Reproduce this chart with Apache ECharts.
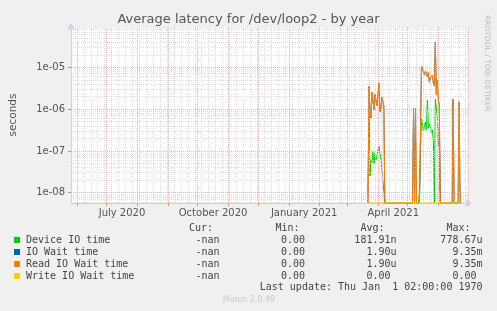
<!DOCTYPE html>
<html><head><meta charset="utf-8">
<script src="https://cdn.jsdelivr.net/npm/echarts@6/dist/echarts.min.js"></script>
<style>html,body{margin:0;padding:0;background:#f0f0f0;} #c{width:497px;height:311px;}</style>
</head><body><div id="c"></div>
<script>
// ---------------- data ----------------
const chartTitle = 'Average latency for /dev/loop2 - by year';
const yAxisName = 'seconds';
const sideText = 'RRDTOOL / TOBI OETIKER';
const footerText = 'Munin 2.0.49';
const lastUpdate = 'Last update: Thu Jan  1 02:00:00 1970';

const xTickLabels = ['July 2020', 'October 2020', 'January 2021', 'April 2021'];
const xTickDates = ['2020-07-16', '2020-10-16', '2021-01-16', '2021-04-16'];
const yTickLabels = ['1e-08', '1e-07', '1e-06', '1e-05'];
const yTickValues = [1e-8, 1e-7, 1e-6, 1e-5];

const dates = [
  '2021-03-22','2021-03-23','2021-03-24','2021-03-25','2021-03-26','2021-03-27','2021-03-28','2021-03-29','2021-03-30','2021-03-31',
  '2021-04-01','2021-04-02','2021-04-03','2021-04-04','2021-04-05','2021-04-06','2021-04-07','2021-04-08',
  '2021-05-06','2021-05-07','2021-05-08','2021-05-09','2021-05-10',
  '2021-05-12','2021-05-13','2021-05-14','2021-05-15','2021-05-16','2021-05-17','2021-05-18','2021-05-19','2021-05-20',
  '2021-05-21','2021-05-22','2021-05-23','2021-05-24','2021-05-25','2021-05-26','2021-05-27','2021-05-28','2021-05-29',
  '2021-05-30','2021-05-31','2021-06-01','2021-06-02','2021-06-03',
  '2021-06-15','2021-06-16','2021-06-17','2021-06-21','2021-06-22','2021-06-23'
];
const deviceIO = [
  0, 3.4e-6, 2.5e-8, 6.1e-8, 5.4e-8, 9.4e-8, 4.9e-8, 8.9e-8, 6.1e-8, 7.6e-8,
  1.05e-7, 1.3e-7, 8.9e-8, 6.8e-8, 3.9e-8, 3.5e-8, 3.9e-8, 0,
  0, 0, 0, 0, 0,
  0, 1.2e-8, 1.3e-8, 6.1e-7, 4.1e-7, 2.8e-7, 3.9e-7, 4.9e-7, 3.2e-7,
  1.65e-6, 3.5e-7, 4.4e-7, 3.9e-7, 2.7e-7, 3.2e-7, 1.8e-7, 0, 1.7e-6,
  1.6e-6, 6.5e-7, 1.24e-7, 3.7e-7, 0,
  0, 0, 0, 0, 0, 0
];
const ioWait = [
  0, 3.57e-6, 8.5e-7, 6.1e-7, 2.56e-6, 1.65e-6, 9.5e-7, 2.3e-6, 1.65e-6, 1.19e-6,
  2.05e-6, 4.2e-6, 8.5e-7, 1.06e-6, 1.95e-6, 2.05e-6, 1.19e-6, 0,
  0, 1.05e-6, 0, 1.05e-6, 0,
  0, 0, 0, 1.07e-5, 1.0e-5, 1.07e-5, 6.5e-6, 8.2e-6, 6.9e-6,
  5.9e-6, 7.7e-6, 4.4e-6, 5.5e-6, 5.0e-6, 6.5e-6, 4.2e-6, 3.6e-6, 4.0e-5,
  2.2e-6, 5.0e-6, 1.65e-6, 1.25e-6, 0,
  0, 1.75e-6, 0, 0, 1.5e-6, 0
];
const readIOWait = [
  0, 3.57e-6, 8.5e-7, 6.1e-7, 2.56e-6, 1.65e-6, 9.5e-7, 2.3e-6, 1.65e-6, 1.19e-6,
  2.05e-6, 4.2e-6, 8.5e-7, 1.06e-6, 1.95e-6, 2.05e-6, 1.19e-6, 0,
  0, 1.05e-6, 0, 1.05e-6, 0,
  0, 0, 0, 1.07e-5, 1.0e-5, 1.07e-5, 6.5e-6, 8.2e-6, 6.9e-6,
  5.9e-6, 7.7e-6, 4.4e-6, 5.5e-6, 5.0e-6, 6.5e-6, 4.2e-6, 3.6e-6, 4.0e-5,
  2.2e-6, 5.0e-6, 1.65e-6, 1.25e-6, 0,
  0, 1.75e-6, 0, 0, 1.5e-6, 0
];
const writeIOWait = [
  0, 0, 0, 0, 0, 0, 0, 0, 0, 0,
  0, 0, 0, 0, 0, 0, 0, 0,
  0, 0, 0, 0, 0,
  0, 0, 0, 0, 0, 0, 0, 0, 0,
  0, 0, 0, 0, 0, 0, 0, 0, 0,
  0, 0, 0, 0, 0,
  0, 0, 0, 0, 0, 0
];

const legendNames = ['Device IO time', 'IO Wait time', 'Read IO Wait time', 'Write IO Wait time'];
const legendHeaders = ['Cur:', 'Min:', 'Avg:', 'Max:'];
const curVals = ['-nan', '-nan', '-nan', '-nan'];
const minVals = ['0.00 ', '0.00 ', '0.00 ', '0.00 '];
const avgVals = ['181.91n', '1.90u', '1.90u', '0.00 '];
const maxVals = ['778.67u', '9.35m', '9.35m', '0.00 '];

// ---------------- styles / layout ----------------
const seriesColors = ['#00CC00', '#0066B3', '#FF8000', '#FFCC00'];
const DAY = 86400000;
const t = s => Date.parse(s + 'T00:00:00Z');
const xMin = t('2020-05-26'), xMax = t('2021-07-01');
const yMin = Math.pow(10, -8.246), yMax = Math.pow(10, -4.035);

const monthStarts = [];
for (let y = 2020, m = 5; ; ) {
  const v = Date.UTC(y, m, 1);
  if (v > xMax) break;
  if (v >= xMin) monthStarts.push(v);
  m++; if (m > 11) { m = 0; y++; }
}
const weekLines = [];
for (let v = Date.UTC(2020, 5, 1); v < xMax; v += 7 * DAY) weekLines.push(v);
const minorY = [];
for (let e = -9; e <= -5; e++) for (let k = 2; k <= 9; k++) {
  const v = k * Math.pow(10, e);
  if (v > yMin && v < yMax) minorY.push(v);
}
const labelTimes = xTickDates.map(d => t(d) + DAY / 2);

function toSeries(vals) {
  return dates.map((d, i) => [t(d), vals[i] === 0 ? yMin : vals[i]]);
}

const minorStyle = { color: '#dcdcdc', type: [1, 1], width: 1 };
const majorStyle = { color: '#f2b0b0', type: [1, 1], width: 1 };
// grid drawn on a linear axis in log10 units so horizontal lines match the log axis
const gridSeries = {
  type: 'line', data: [[xMin, Math.log10(yMin)]], showSymbol: false, lineStyle: { opacity: 0 },
  xAxisIndex: 0, yAxisIndex: 1, silent: true, z: 1,
  markLine: {
    silent: true, symbol: ['none', 'none'], animation: false,
    label: { show: false },
    data: [
      ...weekLines.map(v => ({ xAxis: v, lineStyle: minorStyle })),
      ...minorY.map(v => ({ yAxis: Math.log10(v), lineStyle: minorStyle })),
      ...monthStarts.map(v => ({ xAxis: v, lineStyle: majorStyle })),
      ...yTickValues.map(v => ({ yAxis: Math.log10(v), lineStyle: majorStyle }))
    ]
  }
};

const names = ['Device IO time', 'IO Wait time', 'Read IO Wait time', 'Write IO Wait time'];
const dataSets = [deviceIO, ioWait, readIOWait, writeIOWait];
const lineSeries = dataSets.map((vals, i) => ({
  name: names[i], type: 'line', data: toSeries(vals), showSymbol: false, clip: false,
  xAxisIndex: 0, yAxisIndex: 0,
  z: 3 + i, lineStyle: { color: seriesColors[i], width: 1 }, itemStyle: { color: seriesColors[i] }
}));

// legend graphics
const mono = '10px "DejaVu Sans Mono"';
const txtColor = '#444';
const rowY = [240, 252, 264, 276];
const g = [];
g.push({ type: 'text', x: 248.5, y: 20, style: { text: chartTitle, fill: '#555', font: '13px "DejaVu Sans"', textAlign: 'center', textVerticalAlign: 'middle' } });
g.push({ type: 'text', x: 487, y: 15, rotation: -Math.PI / 2, style: { text: sideText, fill: '#bbbbbb', font: '7.5px "DejaVu Sans"', textAlign: 'left', textVerticalAlign: 'middle' } });
const headerX = [213, 299.5, 384.5, 470.5];
legendHeaders.forEach((h, i) => g.push({ type: 'text', x: headerX[i], y: 228, style: { text: h, fill: txtColor, font: mono, textAlign: 'right', textVerticalAlign: 'middle' } }));
const colX = [219.5, 311, 396.5, 482.5];
const cols = [curVals, minVals, avgVals, maxVals];
legendNames.forEach((n, r) => {
  g.push({ type: 'rect', shape: { x: 14, y: rowY[r] - 3, width: 6, height: 6 }, style: { fill: seriesColors[r] } });
  g.push({ type: 'text', x: 26, y: rowY[r], style: { text: n, fill: txtColor, font: mono, textAlign: 'left', textVerticalAlign: 'middle' } });
  cols.forEach((c, ci) => g.push({ type: 'text', x: colX[ci], y: rowY[r], style: { text: c[r], fill: txtColor, font: mono, textAlign: 'right', textVerticalAlign: 'middle' } }));
});
g.push({ type: 'text', x: 482.5, y: 287.5, style: { text: lastUpdate, fill: txtColor, font: mono, textAlign: 'right', textVerticalAlign: 'middle' } });
g.push({ type: 'text', x: 249, y: 300, style: { text: footerText, fill: '#c8c8c8', font: '8px "DejaVu Sans"', textAlign: 'center', textVerticalAlign: 'middle' } });

const chart = echarts.init(document.getElementById('c'), null, { renderer: 'canvas' });
chart.setOption({
  animation: false,
  backgroundColor: '#f0f0f0',
  grid: { left: 67, top: 27, width: 401, height: 176, show: true, backgroundColor: '#ffffff', borderWidth: 0, containLabel: false },
  xAxis: [{
    type: 'value', min: xMin, max: xMax, scale: true,
    axisLine: { show: true, onZero: false, lineStyle: { color: '#c8ccf8', width: 1 }, symbol: ['none', 'arrow'], symbolSize: [6, 7], symbolOffset: [0, 4] },
    axisTick: { show: true, customValues: monthStarts, length: 3, lineStyle: { color: '#e89090' } },
    axisLabel: {
      customValues: labelTimes, color: '#555', fontSize: 10, fontFamily: 'DejaVu Sans', margin: 5,
      formatter: v => { let b = 0, bd = Infinity; labelTimes.forEach((lt, i) => { const d = Math.abs(lt - v); if (d < bd) { bd = d; b = i; } }); return xTickLabels[b]; }
    },
    splitLine: { show: false }, minorTick: { show: false }
  }],
  yAxis: [{
    type: 'log', logBase: 10, min: yMin, max: yMax,
    name: yAxisName, nameLocation: 'middle', nameGap: 52, nameRotate: 90,
    nameTextStyle: { color: '#555', fontSize: 10.5, fontFamily: 'DejaVu Sans' },
    axisLine: { show: true, lineStyle: { color: '#c8ccf8', width: 1 }, symbol: ['none', 'arrow'], symbolSize: [6, 7], symbolOffset: [0, 4] },
    axisTick: { show: true, customValues: yTickValues, length: 3, lineStyle: { color: '#999' } },
    axisLabel: {
      customValues: yTickValues, color: '#555', fontSize: 10, fontFamily: 'DejaVu Sans', margin: 6,
      formatter: v => { let b = 0, bd = Infinity; yTickValues.forEach((tv, i) => { const d = Math.abs(Math.log10(tv) - Math.log10(v)); if (d < bd) { bd = d; b = i; } }); return yTickLabels[b]; }
    },
    splitLine: { show: false }, minorTick: { show: false }
  }, {
    type: 'value', min: Math.log10(yMin), max: Math.log10(yMax), show: false,
    axisLine: { show: false }, axisTick: { show: false }, axisLabel: { show: false }, splitLine: { show: false }
  }],
  series: [gridSeries, ...lineSeries],
  graphic: g
});
</script></body></html>
